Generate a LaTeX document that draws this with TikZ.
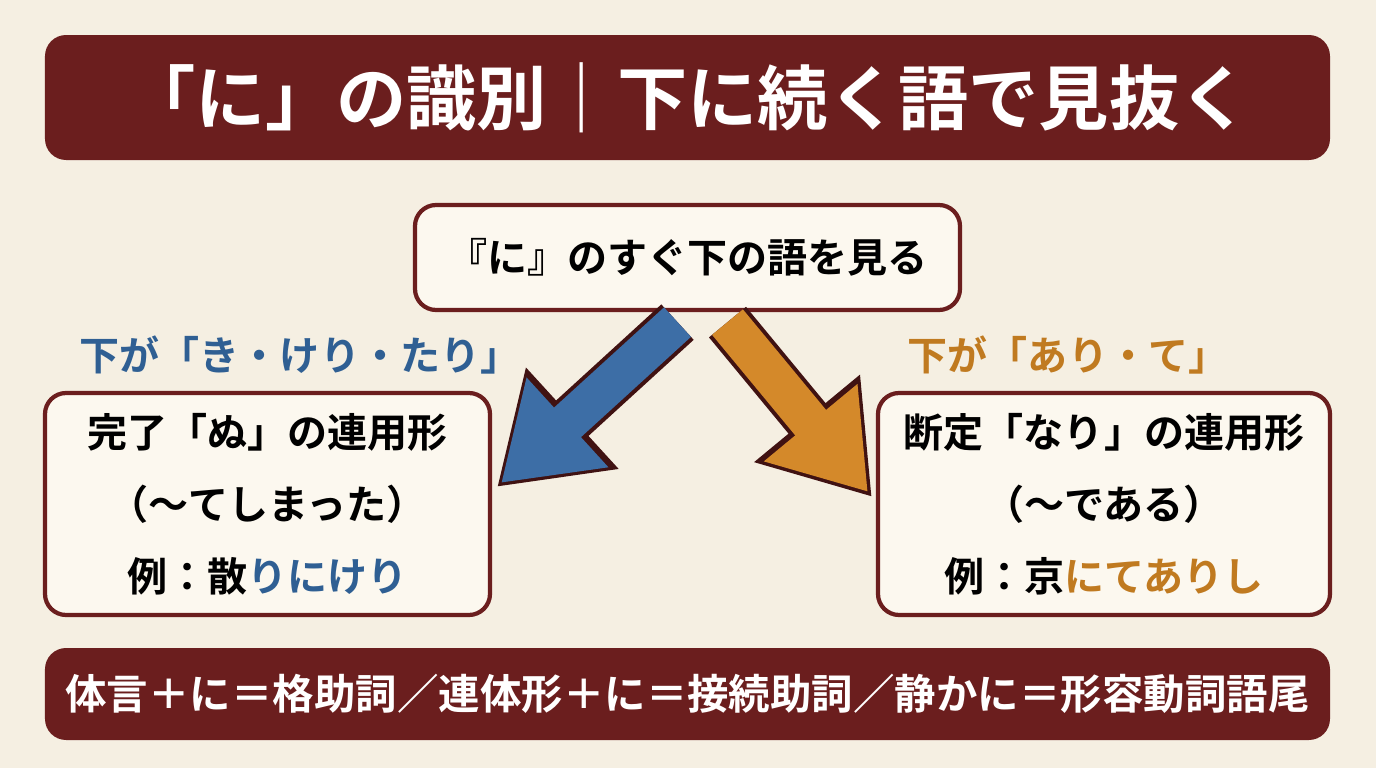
\documentclass[tikz,border=0pt]{standalone}
\usepackage{fontspec}
\setmainfont{Noto Sans CJK JP}[BoldFont={Noto Sans CJK JP Bold}]
\usetikzlibrary{positioning,arrows.meta}
\definecolor{paper}{HTML}{F5EFE2}
\definecolor{maroon}{HTML}{6B1E1E}
\definecolor{boxfill}{HTML}{FCF8EF}
\definecolor{blueink}{HTML}{2F5F93}
\definecolor{bluefill}{HTML}{3D6EA6}
\definecolor{orangeink}{HTML}{C07A20}
\definecolor{orangefill}{HTML}{D4892A}
\begin{document}
\begin{tikzpicture}[font=\bfseries]

	% Setup the styles
	\tikzset{banner style/.style={fill=maroon, rounded corners=6pt, text=white},
		box style/.style={draw=maroon, line width=1.2pt, fill=boxfill, rounded corners=6pt, align=center},
		fat arrow/.style={line width=0.4cm, -{Triangle[width=1.15cm,length=0.9cm]}}}

	% Background
	\fill[paper] (0,0) rectangle (13.76,-7.68);
	\useasboundingbox (0,0) rectangle (13.76,-7.68);

	% Draw the banners
	\node[banner style, minimum width=12.85cm, minimum height=1.25cm, font=\bfseries\fontsize{20}{24}\selectfont] at (6.875, -0.975) (title) {「に」の識別｜下に続く語で見抜く};
	\node[banner style, minimum width=12.85cm, minimum height=0.92cm, font=\bfseries\fontsize{11.8}{14}\selectfont] at (6.875, -6.94) (summary) {体言＋に＝格助詞／連体形＋に＝接続助詞／静かに＝形容動詞語尾};

	% Draw the boxes
	\node[box style, minimum width=5.45cm, minimum height=1.05cm, font=\bfseries\fontsize{11.4}{14}\selectfont] at (6.875, -2.575) (start) {『に』のすぐ下の語を見る};
	\node[box style, minimum width=4.45cm, minimum height=2.22cm, font=\bfseries\fontsize{11.4}{20.5}\selectfont] at (2.675, -5.04) (kanryo) {完了「ぬ」の連用形\\（～てしまった）\\例：散\textcolor{blueink}{りにけり}};
	\node[box style, minimum width=4.52cm, minimum height=2.22cm, font=\bfseries\fontsize{11.4}{20.5}\selectfont] at (11.04, -5.04) (dantei) {断定「なり」の連用形\\（～である）\\例：京\textcolor{orangeink}{にてありし}};

	% Branch labels
	\node[text=blueink, font=\bfseries\fontsize{11.4}{14}\selectfont] at (3.0, -3.55) (leftlabel) {下が「き・けり・たり」};
	\node[text=orangeink, font=\bfseries\fontsize{11.4}{14}\selectfont] at (10.68, -3.55) (rightlabel) {下が「あり・て」};

	% Connect the boxes with arrows
	\coordinate (lefttip) at (4.97, -4.87);
	\coordinate (righttip) at (8.72, -4.97);
	\draw[fat arrow, draw=maroon!60!black, line width=0.48cm, -{Triangle[width=1.3cm,length=1.02cm]}] ([xshift=-0.1cm,yshift=-0.1cm]start.south) -- (lefttip);
	\draw[fat arrow, draw=bluefill, fill=bluefill] ([xshift=-0.1cm,yshift=-0.1cm]start.south) -- ([shift={(0.04,0.04)}]lefttip);
	\draw[fat arrow, draw=maroon!60!black, line width=0.48cm, -{Triangle[width=1.3cm,length=1.02cm]}] ([xshift=0.4cm,yshift=-0.1cm]start.south) -- (righttip);
	\draw[fat arrow, draw=orangefill, fill=orangefill] ([xshift=0.4cm,yshift=-0.1cm]start.south) -- ([shift={(-0.04,0.05)}]righttip);

\end{tikzpicture}
\end{document}
